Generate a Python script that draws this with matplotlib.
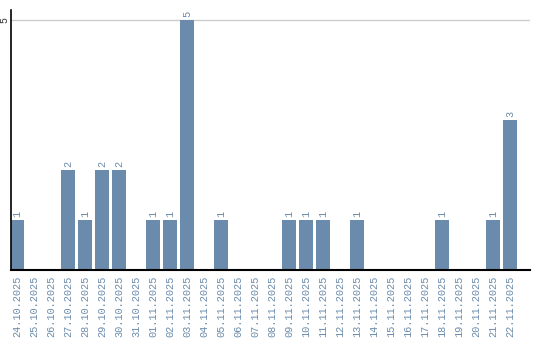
import numpy as np
import matplotlib.pyplot as plt

dates = ["24.10.2025", "25.10.2025", "26.10.2025", "27.10.2025", "28.10.2025",
         "29.10.2025", "30.10.2025", "31.10.2025", "01.11.2025", "02.11.2025",
         "03.11.2025", "04.11.2025", "05.11.2025", "06.11.2025", "07.11.2025",
         "08.11.2025", "09.11.2025", "10.11.2025", "11.11.2025", "12.11.2025",
         "13.11.2025", "14.11.2025", "15.11.2025", "16.11.2025", "17.11.2025",
         "18.11.2025", "19.11.2025", "20.11.2025", "21.11.2025", "22.11.2025"]
counts = [1, 0, 0, 2, 1, 2, 2, 0, 1, 1, 5, 0, 1, 0, 0,
          0, 1, 1, 1, 0, 1, 0, 0, 0, 0, 1, 0, 0, 1, 3]

bar_color = "#6a8bab"
label_color = "#6a8bab"
mono = ["Liberation Mono", "DejaVu Sans Mono"]

fig = plt.figure(figsize=(5.4, 3.4), dpi=100)
ax = fig.add_axes([11/540, 70/340, 519/540, 260/340])

x = np.arange(len(dates))
ax.bar(x, counts, width=14/17, color=bar_color, zorder=2)
ax.set_xlim(-6/17, 513/17)
ax.set_ylim(0, 5.2)

ax.axhline(5, color="#cccccc", lw=1, zorder=1)

for xi, c in zip(x, counts):
    if c > 0:
        ax.text(xi, c + 0.06, str(c), rotation=90, ha="center", va="bottom",
                fontsize=7.4, family=mono, color=label_color)

ax.set_xticks(x)
ax.set_xticklabels(dates, rotation=90, family=mono, fontsize=7.4, color=label_color)
ax.tick_params(axis="x", length=0, pad=4)
ax.set_yticks([5])
ax.set_yticklabels(["5"], rotation=90, va="center", family=mono, fontsize=7.2, color="#333333")
ax.tick_params(axis="y", length=0, pad=1)

for s in ["top", "right"]:
    ax.spines[s].set_visible(False)
ax.spines["left"].set_linewidth(1.2)
ax.spines["bottom"].set_linewidth(1.5)

fig.savefig("out.png", dpi=100)
